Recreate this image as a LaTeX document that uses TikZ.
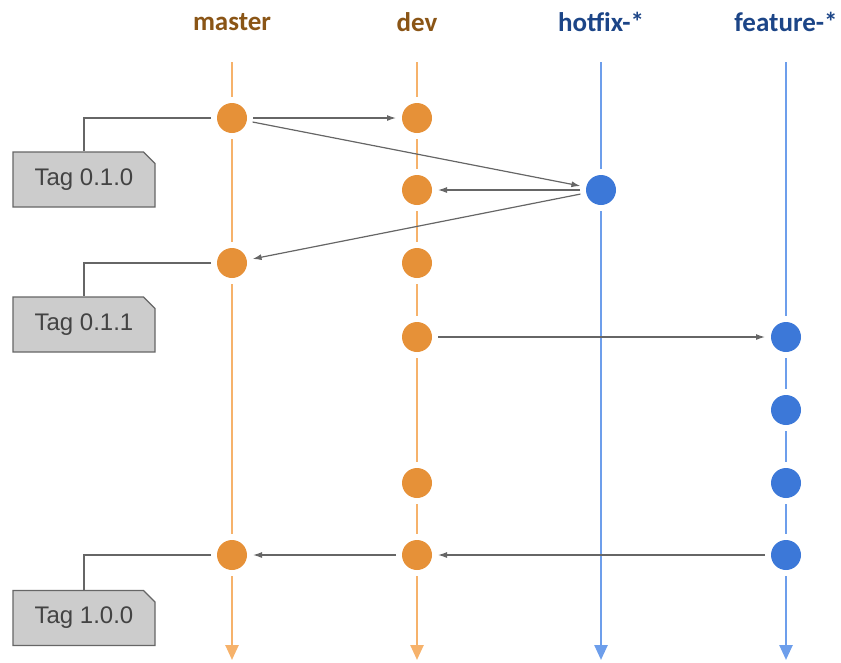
\documentclass[tikz,border=0pt]{standalone}
\usepackage{fontspec}
\setmainfont{Liberation Sans}
\newfontfamily\labfont{Carlito}
\usetikzlibrary{arrows.meta,shapes.misc}
\definecolor{orfill}{HTML}{E69138}
\definecolor{orline}{HTML}{F6B26B}
\definecolor{orlab}{HTML}{8A5516}
\definecolor{blfill}{HTML}{3C78D8}
\definecolor{blline}{HTML}{6D9EEB}
\definecolor{bllab}{HTML}{1C4587}
\definecolor{conn}{HTML}{666666}
\definecolor{tagfill}{HTML}{CCCCCC}
\definecolor{tagtext}{HTML}{434343}
\begin{document}
\begin{tikzpicture}[x=1pt,y=-1pt,
  ocommit/.style={circle,fill=orfill,minimum size=30pt,inner sep=0pt,outer sep=6pt},
  bcommit/.style={circle,fill=blfill,minimum size=30pt,inner sep=0pt,outer sep=6pt},
  oline/.style={draw=orline,line width=2.5pt},
  bline/.style={draw=blline,line width=2.5pt},
  olast/.style={oline,-{Triangle[length=15pt,width=13pt]}},
  blast/.style={bline,-{Triangle[length=15pt,width=13pt]}},
  mergeline/.style={draw=conn,line width=1.2pt,-{Latex[length=9pt,width=6pt]}},
  tagline/.style={draw=conn,line width=1.2pt},
  tagbox/.style={chamfered rectangle,chamfered rectangle corners=north east,chamfered rectangle xsep=8pt,
    fill=tagfill,draw=conn,line width=1.2pt,minimum width=142pt,minimum height=55pt,inner sep=0pt,
    font=\fontsize{24}{28}\selectfont,text=tagtext},
  blab/.style={font=\labfont\bfseries\fontsize{27}{32}\selectfont}
]
\useasboundingbox (0,0) rectangle (841,662);
% labels
\node[blab,text=orlab] (lm) at (232,22) {master};
\node[blab,text=orlab] (ld) at (417,22) {dev};
\node[blab,text=bllab] (lh) at (601,22) {hotfix-*};
\node[blab,text=bllab] (lf) at (786,22) {feature-*};
% top/bottom coordinates
\coordinate (mt) at (232,62); \coordinate (mb) at (232,660);
\coordinate (dt) at (417,62); \coordinate (db) at (417,660);
\coordinate (ht) at (601,62); \coordinate (hb) at (601,660);
\coordinate (ft) at (786,62); \coordinate (fb) at (786,660);
% commits
\node[ocommit] (m1) at (232,118) {};
\node[ocommit] (m2) at (232,263) {};
\node[ocommit] (m3) at (232,555) {};
\node[ocommit] (d1) at (417,118) {};
\node[ocommit] (d2) at (417,190) {};
\node[ocommit] (d3) at (417,263) {};
\node[ocommit] (d4) at (417,337) {};
\node[ocommit] (d5) at (417,483) {};
\node[ocommit] (d6) at (417,555) {};
\node[bcommit] (h1) at (601,190) {};
\node[bcommit] (f1) at (786,337) {};
\node[bcommit] (f2) at (786,410) {};
\node[bcommit] (f3) at (786,483) {};
\node[bcommit] (f4) at (786,555) {};
% branch lines
\draw[oline] (mt) -- (m1); \draw[oline] (m1) -- (m2); \draw[oline] (m2) -- (m3); \draw[olast] (m3) -- (mb);
\draw[oline] (dt) -- (d1); \draw[oline] (d1) -- (d2); \draw[oline] (d2) -- (d3); \draw[oline] (d3) -- (d4);
\draw[oline] (d4) -- (d5); \draw[oline] (d5) -- (d6); \draw[olast] (d6) -- (db);
\draw[bline] (ht) -- (h1); \draw[blast] (h1) -- (hb);
\draw[bline] (ft) -- (f1); \draw[bline] (f1) -- (f2); \draw[bline] (f2) -- (f3); \draw[bline] (f3) -- (f4); \draw[blast] (f4) -- (fb);
% merges
\draw[mergeline] (m1) -- (d1);
\draw[mergeline] (m1) -- (h1);
\draw[mergeline] (h1) -- (d2);
\draw[mergeline] (h1) -- (m2);
\draw[mergeline] (d4) -- (f1);
\draw[mergeline] (f4) -- (d6);
\draw[mergeline] (d6) -- (m3);
% tags
\node[tagbox] (t1) at (84,179.5) {Tag 0.1.0};
\node[tagbox] (t2) at (84,324.5) {Tag 0.1.1};
\node[tagbox] (t3) at (84,618) {Tag 1.0.0};
\draw[tagline] (m1.west) -| (t1.north);
\draw[tagline] (m2.west) -| (t2.north);
\draw[tagline] (m3.west) -| (t3.north);
\end{tikzpicture}
\end{document}
